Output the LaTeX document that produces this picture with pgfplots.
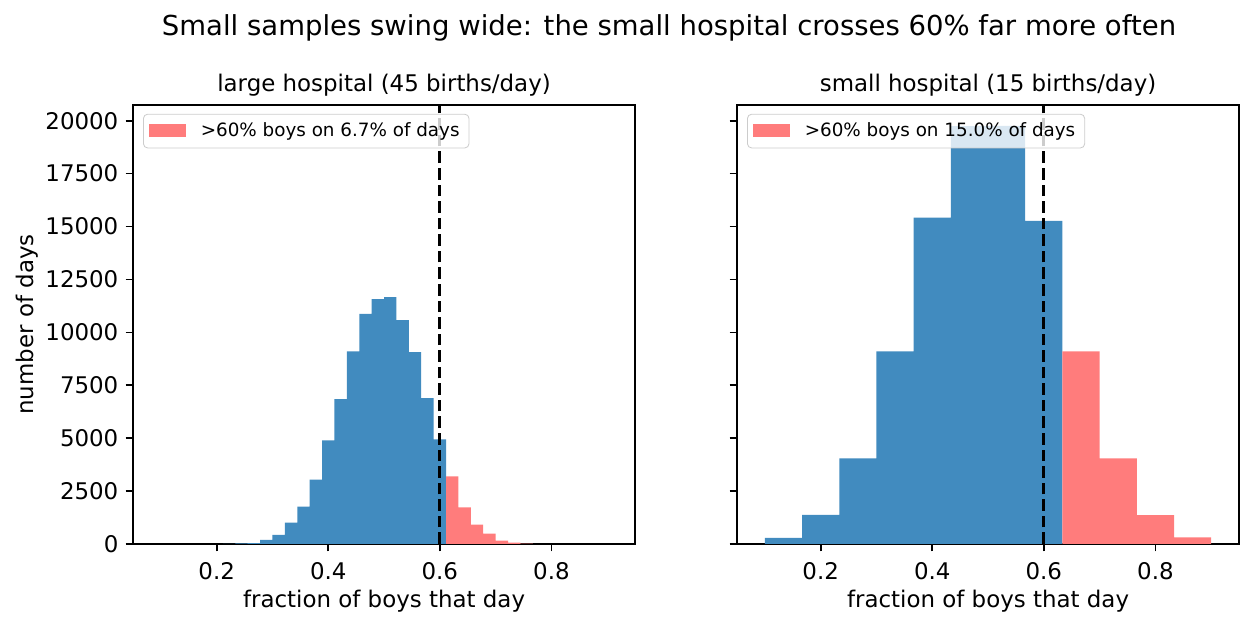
\documentclass[border=0pt]{standalone}
\usepackage{fontspec}
\setmainfont{DejaVu Sans}
\usepackage{pgfplots}
\pgfplotsset{compat=1.18}

\definecolor{barblue}{RGB}{65,139,191}
\definecolor{barred}{RGB}{255,124,124}

\pgfplotsset{
  hist/.style={
    scale only axis, width=241pt, height=210.7pt,
    xmin=0.05, xmax=0.95, ymin=0, ymax=20740,
    axis line style={line width=0.8pt},
    tick align=outside, xtick pos=bottom, ytick pos=left,
    major tick length=3.5pt,
    every tick/.style={black, line width=0.8pt},
    xtick={0.2,0.4,0.6,0.8},
    ytick={0,2500,5000,7500,10000,12500,15000,17500,20000},
    scaled ticks=false,
    xticklabel style={/pgf/number format/.cd, fixed, fixed zerofill, precision=1, /tikz/.cd, yshift=-2pt},
    yticklabel style={/pgf/number format/.cd, fixed, 1000 sep={}},
    /pgf/number format/assume math mode=true,
    tick label style={font=\fontsize{11}{13}\selectfont},
    label style={font=\fontsize{11}{13}\selectfont},
    xlabel style={at={(0.5,0)}, anchor=center, yshift=-27.4pt},
    title style={font=\fontsize{11}{13}\selectfont, anchor=base, yshift=0.7pt},
    xlabel={fraction of boys that day},
    legend style={at={(0.02,0.98)}, anchor=north west, draw=black!20, rounded corners=2pt,
      fill=white, fill opacity=0.8, text opacity=1, font=\fontsize{8.8}{10.5}\selectfont,
      inner xsep=2.5pt, inner ysep=2pt,
      /tikz/every odd column/.append style={column sep=5pt}},
    legend image code/.code={\fill[barred, fill opacity=1, sharp corners] (0pt,-2.6pt) rectangle (18pt,3.5pt);},
  }
}

\begin{document}
\begin{tikzpicture}
\useasboundingbox (-63.84pt,-40.8pt) rectangle (537.6pt,261.12pt);

\begin{axis}[hist, at={(0pt,0pt)}, anchor=south west,
  title={large hospital (45 births/day)},
  ylabel={number of days},
  ylabel style={at={([xshift=-50.9pt]axis description cs:0,0.5)}, anchor=center}]
\addplot[ybar interval, fill=barblue, draw=none, forget plot] coordinates {
(0.21111,8) (0.23333,30) (0.25556,47) (0.27778,190) (0.30000,430) (0.32222,1010)
(0.34444,1770) (0.36667,3040) (0.38889,4890) (0.41111,6840) (0.43333,9100)
(0.45556,10870) (0.47778,11570) (0.50000,11660) (0.52222,10580) (0.54444,9070)
(0.56667,6890) (0.58889,4940) (0.61111,4940)};
\addplot[ybar interval, fill=barred, draw=none] coordinates {
(0.61111,3190) (0.63333,1725) (0.65556,920) (0.67778,490) (0.70000,160)
(0.72222,63) (0.74444,15) (0.76667,15)};
\addlegendentry{>60\% boys on 6.7\% of days}
\addplot[black, line width=1.5pt, dash pattern=on 5.55pt off 2.4pt, forget plot] coordinates {(0.6,0) (0.6,20740)};
\end{axis}

\begin{axis}[hist, at={(289.92pt,0pt)}, anchor=south west,
  title={small hospital (15 births/day)},
  yticklabels={}]
\addplot[ybar interval, fill=barblue, draw=none, forget plot] coordinates {
(0.10000,290) (0.16667,1380) (0.23333,4040) (0.30000,9100) (0.36667,15420)
(0.43333,19740) (0.50000,19760) (0.56667,15270) (0.63333,15270)};
\addplot[ybar interval, fill=barred, draw=none] coordinates {
(0.63333,9100) (0.70000,4050) (0.76667,1370) (0.83333,310) (0.90000,310)};
\addlegendentry{>60\% boys on 15.0\% of days}
\addplot[black, line width=1.5pt, dash pattern=on 5.55pt off 2.4pt, forget plot] coordinates {(0.6,0) (0.6,20740)};
\end{axis}

\node[font=\fontsize{13.2}{15}\selectfont] at (257.3pt,247.7pt) {Small samples swing wide: the small hospital crosses 60\% far more often};
\end{tikzpicture}
\end{document}
